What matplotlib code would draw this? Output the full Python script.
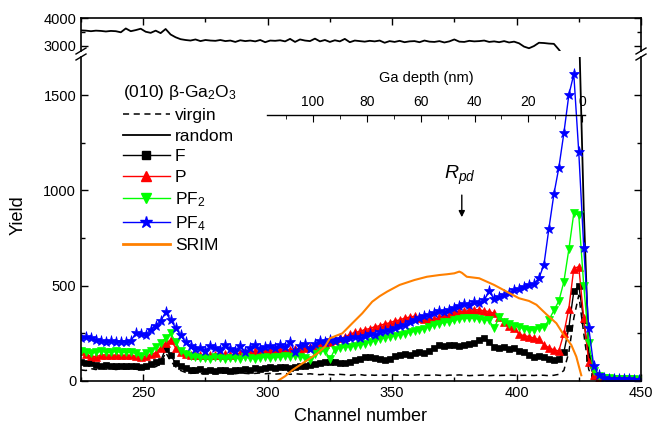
import numpy as np
import matplotlib
matplotlib.use("Agg")
import matplotlib.pyplot as plt
from matplotlib.lines import Line2D
from matplotlib.ticker import MultipleLocator

plt.rcParams['font.family'] = ['Liberation Sans', 'DejaVu Sans']
plt.rcParams['mathtext.fontset'] = 'custom'
plt.rcParams['mathtext.rm'] = 'Liberation Sans'
plt.rcParams['mathtext.it'] = 'Liberation Sans:italic'

# ---- RBS spectra (yield per channel, every second channel 225..449) ----
channels = np.arange(225, 450, 2)

virgin = [58, 55, 65, 60, 68, 62, 66, 60, 64, 62,
          65, 62, 58, 64, 70, 75, 90, 150, 105, 75,
          55, 45, 40, 42, 38, 40, 42, 38, 40, 42,
          40, 38, 42, 40, 38, 40, 42, 38, 40, 36,
          38, 40, 35, 38, 36, 35, 38, 35, 33, 36,
          34, 32, 35, 33, 30, 32, 34, 30, 32, 30,
          32, 30, 33, 31, 30, 32, 30, 31, 33, 30,
          30, 32, 30, 28, 31, 30, 32, 30, 28, 30,
          30, 32, 28, 30, 29, 30, 31, 30, 29, 30,
          30, 29, 31, 30, 28, 30, 35, 55, 150, 330,
          450, 250, 60, 10, 4, 3, 3, 2, 2, 2,
          2, 2, 2]

random_ = [3550, 3540, 3520, 3540, 3530, 3510, 3530, 3520, 3480, 3620,
           3520, 3560, 3610, 3500, 3460, 3540, 3450, 3600, 3400, 3300,
           3230, 3200, 3180, 3220, 3160, 3200, 3180, 3170, 3200, 3160,
           3180, 3130, 3190, 3160, 3180, 3150, 3200, 3120, 3180, 3170,
           3190, 3150, 3240, 3130, 3220, 3180, 3160, 3250, 3150, 3200,
           3130, 3190, 3150, 3240, 3120, 3180, 3160, 3140, 3170, 3150,
           3180, 3100, 3160, 3130, 3170, 3120, 3150, 3160, 3120, 3180,
           3140, 3130, 3160, 3110, 3150, 3220, 3140, 3130, 3170, 3150,
           3160, 3180, 3130, 3150, 3120, 3160, 3110, 3140, 3080, 2960,
           2900, 2980, 3100, 3090, 3070, 3060, 2850, 2600, 2400, 2200,
           1900, 900, 150, 25, 12, 8, 6, 6, 5, 5,
           5, 5, 5]

y_F = [100, 95, 92, 85, 80, 82, 78, 80, 78, 80,
       80, 78, 75, 78, 90, 100, 105, 170, 135, 95,
       80, 66, 60, 58, 62, 55, 58, 52, 60, 58,
       55, 60, 58, 62, 60, 66, 65, 68, 72, 70,
       72, 75, 70, 75, 80, 78, 85, 90, 92, 100,
       100, 98, 95, 92, 100, 110, 115, 125, 128, 122,
       115, 110, 118, 130, 136, 140, 138, 145, 150, 145,
       160, 175, 189, 185, 188, 190, 185, 190, 195, 200,
       215, 225, 205, 180, 175, 178, 170, 172, 160, 150,
       135, 128, 130, 125, 118, 112, 118, 150, 280, 470,
       500, 320, 120, 25, 8, 5, 5, 4, 4, 3,
       3, 3, 3]

y_P = [155, 140, 130, 128, 135, 138, 135, 136, 134, 136,
       135, 130, 128, 130, 140, 148, 175, 200, 215, 175,
       150, 140, 136, 134, 136, 135, 138, 136, 134, 140,
       138, 140, 145, 150, 152, 155, 160, 162, 160, 165,
       162, 165, 163, 170, 165, 175, 180, 185, 190, 195,
       205, 215, 225, 230, 245, 255, 260, 270, 275, 285,
       290, 300, 305, 315, 320, 330, 335, 340, 330, 325,
       320, 325, 335, 340, 345, 360, 365, 365, 370, 375,
       373, 368, 364, 355, 338, 310, 290, 280, 245, 238,
       233, 225, 218, 190, 175, 163, 158, 250, 380, 590,
       600, 330, 100, 30, 14, 10, 9, 8, 8, 7,
       7, 6, 6]

y_PF2 = [155, 150, 145, 150, 155, 152, 150, 155, 150, 152,
         150, 145, 130, 145, 160, 180, 200, 225, 250, 205,
         160, 140, 130, 128, 120, 122, 118, 125, 120, 118,
         122, 120, 118, 125, 120, 115, 122, 128, 120, 125,
         125, 130, 128, 130, 128, 120, 110, 140, 155, 160,
         115, 165, 172, 178, 180, 185, 190, 195, 205, 210,
         220, 228, 233, 238, 241, 248, 255, 260, 268, 275,
         285, 294, 300, 308, 311, 318, 325, 328, 330, 329,
         325, 322, 318, 276, 335, 310, 300, 290, 283, 275,
         268, 270, 276, 282, 320, 370, 420, 520, 690, 880,
         870, 500, 200, 55, 25, 18, 15, 12, 10, 9,
         8, 8, 7]

y_PF4 = [225, 230, 228, 215, 208, 205, 210, 205, 207, 205,
         210, 250, 245, 240, 270, 290, 315, 360, 320, 280,
         240, 205, 185, 170, 175, 160, 185, 175, 165, 190,
         170, 160, 185, 150, 175, 190, 170, 180, 185, 175,
         190, 180, 205, 150, 185, 195, 170, 195, 210, 205,
         215, 210, 220, 215, 225, 230, 225, 235, 245, 240,
         255, 260, 270, 280, 290, 295, 310, 320, 330, 340,
         345, 355, 365, 360, 375, 385, 395, 405, 400, 415,
         410, 425, 470, 430, 440, 450, 460, 475, 485, 495,
         505, 510, 540, 610, 800, 980, 1120, 1300, 1500, 1610,
         1200, 700, 280, 80, 30, 18, 12, 10, 9, 8,
         8, 7, 6]

# SRIM-simulated damage profile mapped onto the channel scale
srim_ch = [304, 307, 310, 313, 316, 320, 323, 325, 328, 330, 334, 338,
           342, 345, 348, 353, 359, 364, 369, 372, 375, 377, 378, 380,
           385, 391, 396, 401, 405, 408, 412, 416, 419, 422, 424, 426]
srim_y = [0, 25, 58, 84, 110, 145, 180, 224, 240, 250, 303, 355,
          416, 445, 469, 504, 530, 547, 556, 560, 565, 574, 568, 547,
          539, 504, 469, 434, 420, 400, 350, 303, 241, 189, 128, 30]

# Ga depth scale (nm) shown above the spectra
depth_ticks = [100, 80, 60, 40, 20, 0]
depth_lim = (117, -1)

rpd_channel = 378

W, H = 652, 430
fig = plt.figure(figsize=(W / 100, H / 100), dpi=100)


def rect(x0, y0, x1, y1):
    return [x0 / W, 1 - y1 / H, (x1 - x0) / W, (y1 - y0) / H]


ax_top = fig.add_axes(rect(81, 18, 641, 51))
ax = fig.add_axes(rect(81, 57, 641, 381))

orange = '#FF8000'
styles = dict(
    F=dict(color='black', marker='s', ms=4.8),
    P=dict(color='#FF0000', marker='^', ms=5.5),
    PF2=dict(color='#00FF00', marker='v', ms=5.5),
    PF4=dict(color='#0000FF', marker='*', ms=8),
)

for a in (ax, ax_top):
    a.plot(channels, virgin, color='black', ls=(0, (4, 3)), lw=1.1)
    a.plot(channels, random_, color='black', lw=1.3)
    for name, ys in (('F', y_F), ('P', y_P), ('PF2', y_PF2), ('PF4', y_PF4)):
        st = styles[name]
        a.plot(channels, ys, color=st['color'], lw=1.0, marker=st['marker'],
               ms=st['ms'], mfc=st['color'], mec=st['color'], mew=0.5)
    a.plot(srim_ch, srim_y, color=orange, lw=1.5)
    a.set_xlim(225, 450)
    a.xaxis.set_major_locator(MultipleLocator(50))
    a.xaxis.set_minor_locator(MultipleLocator(25))
    for s in a.spines.values():
        s.set_linewidth(1.2)

ax.set_ylim(0, 1700)
ax_top.set_ylim(2800, 4000)
ax.spines['top'].set_visible(False)
ax_top.spines['bottom'].set_visible(False)

ax.yaxis.set_major_locator(MultipleLocator(500))
ax.yaxis.set_minor_locator(MultipleLocator(250))
ax_top.set_yticks([3000, 4000])
ax_top.yaxis.set_minor_locator(MultipleLocator(500))

ax.tick_params(which='both', direction='in', top=False, right=True,
               labelsize=10.5, width=1.0)
ax.tick_params(which='major', length=5)
ax.tick_params(which='minor', length=3)
ax_top.tick_params(which='both', direction='in', top=True, bottom=False,
                   right=True, labelbottom=False, labelsize=10.5, width=1.0)
ax_top.tick_params(which='major', length=5)
ax_top.tick_params(which='minor', length=3)

ax.set_xlabel('Channel number', fontsize=13, labelpad=6)
fig.text(18 / W, 1 - 215 / H, 'Yield', rotation=90, fontsize=13,
         ha='center', va='center')

# axis break marks
for xb in (81, 641):
    for yb in (51, 57):
        fig.add_artist(Line2D([(xb - 5) / W, (xb + 5) / W],
                              [1 - (yb + 3) / H, 1 - (yb - 3) / H],
                              color='black', lw=1.0))

# Ga depth scale
axd = fig.add_axes(rect(267, 115, 585, 130))
axd.patch.set_visible(False)
for k in ('bottom', 'left', 'right'):
    axd.spines[k].set_visible(False)
axd.spines['top'].set_linewidth(1.0)
axd.set_xlim(*depth_lim)
axd.set_xticks(depth_ticks)
axd.xaxis.set_minor_locator(MultipleLocator(10))
axd.set_yticks([])
axd.xaxis.tick_top()
axd.xaxis.set_label_position('top')
axd.tick_params(which='both', direction='in', labelsize=10, pad=4)
axd.tick_params(which='major', length=5)
axd.tick_params(which='minor', length=3)
axd.set_xlabel('Ga depth (nm)', fontsize=10.5, labelpad=10)

# projected range marker
ax.annotate('', xy=(rpd_channel, 845), xytext=(rpd_channel, 990),
            arrowprops=dict(arrowstyle='-|>', color='black', lw=1.0,
                            mutation_scale=9))
ax.text(rpd_channel - 1, 1020, r'$\mathit{R}_{\mathit{pd}}$', fontsize=14,
        ha='center', va='bottom')

# legend
fig.text(123 / W, 1 - 92 / H, '(010) β-Ga$_2$O$_3$', fontsize=12.5,
         ha='left', va='center')
handles = [
    Line2D([], [], color='black', ls=(0, (4, 3)), lw=1.1),
    Line2D([], [], color='black', lw=1.3),
]
labels = ['virgin', 'random', 'F', 'P', r'PF$_2$', r'PF$_4$', 'SRIM']
for name in ('F', 'P', 'PF2', 'PF4'):
    st = styles[name]
    handles.append(Line2D([], [], color=st['color'], lw=1.0, marker=st['marker'],
                          ms=st['ms'] + 1, mfc=st['color'], mec=st['color']))
handles.append(Line2D([], [], color=orange, lw=2.0))
leg = fig.legend(handles, labels, loc='upper left',
                 bbox_to_anchor=(123 / W, 1 - 108 / H), frameon=False,
                 fontsize=12.5, handlelength=2.7, handletextpad=0.3,
                 labelspacing=0.31, borderpad=0, borderaxespad=0)

fig.savefig('out.png', dpi=100)
